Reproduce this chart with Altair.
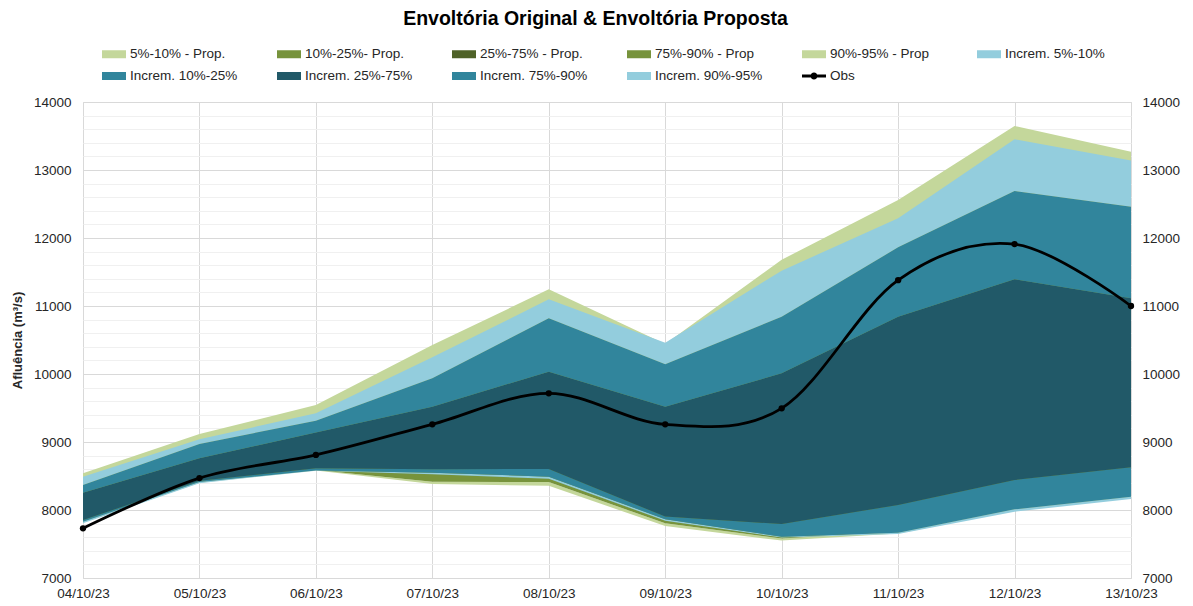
import altair as alt
import pandas as pd

dates = ["04/10/23", "05/10/23", "06/10/23", "07/10/23", "08/10/23",
         "09/10/23", "10/10/23", "11/10/23", "12/10/23", "13/10/23"]

# Envoltória proposta (percentis)
p05 = [7815, 8400, 8580, 8382, 8355, 7765, 7550, 7655, 7990, 8180]
p10 = [7840, 8415, 8590, 8417, 8410, 7804, 7580, 7680, 8030, 8220]
p25 = [7900, 8450, 8650, 8650, 8700, 8000, 7900, 8150, 8500, 8700]
p75 = [8200, 8700, 9100, 9400, 9900, 9400, 9900, 10700, 11300, 11000]
p90 = [8450, 9000, 9380, 10200, 11050, 10400, 11450, 12200, 13400, 13100]
p95 = [8540, 9117, 9544, 10426, 11245, 10440, 11680, 12559, 13647, 13270]

# Envoltória original (incremental)
o05 = [7804, 8395, 8578, 8525, 8460, 7843, 7594, 7647, 7975, 8162]
o10 = [7828, 8410, 8580, 8549, 8490, 7864, 7608, 7667, 8010, 8196]
o25 = [7853, 8430, 8613, 8600, 8603, 7903, 7794, 8074, 8441, 8627]
o75 = [8255, 8760, 9138, 9520, 10034, 9520, 10010, 10843, 11393, 11113]
o90 = [8368, 8970, 9314, 9936, 10819, 10142, 10843, 11863, 12691, 12461]
o95 = [8490, 9040, 9422, 10245, 11098, 10461, 11520, 12289, 13451, 13138]

obs = [7731, 8470, 8810, 9260, 9716, 9260, 9495, 11380, 11910, 11000]

series_names = ["5%-10% - Prop.", "10%-25%- Prop.", "25%-75% - Prop.", "75%-90% - Prop",
                "90%-95% - Prop", "Increm. 5%-10%", "Increm. 10%-25%", "Increm. 25%-75%",
                "Increm. 75%-90%", "Increm. 90%-95%", "Obs"]
series_colors = ["#C4D79B", "#77933C", "#4F6228", "#77933C", "#C4D79B",
                 "#93CDDD", "#31859C", "#215968", "#31859C", "#93CDDD", "#000000"]

RECT = "M-1.2,-0.4H1.2V0.4H-1.2Z"
OBS_SYM = "M-1.2,-0.15H1.2V0.15H-1.2ZM0.35,0A0.35,0.35,0,1,1,-0.35,0A0.35,0.35,0,1,1,0.35,0Z"
series_shapes = [RECT] * 10 + [OBS_SYM]

prop_bands = [(series_names[0], p05, p10), (series_names[1], p10, p25),
              (series_names[2], p25, p75), (series_names[3], p75, p90),
              (series_names[4], p90, p95)]
orig_bands = [(series_names[5], o05, o10), (series_names[6], o10, o25),
              (series_names[7], o25, o75), (series_names[8], o75, o90),
              (series_names[9], o90, o95)]


def band_frame(bands):
    rows = []
    for name, lo, hi in bands:
        for i, d in enumerate(dates):
            rows.append({"dia": d, "serie": name, "lo": lo[i], "hi": hi[i]})
    return pd.DataFrame(rows)


df_prop = band_frame(prop_bands)
df_orig = band_frame(orig_bands)
df_obs = pd.DataFrame({"dia": dates, "valor": obs, "serie": ["Obs"] * len(dates)})

FONT = "Liberation Sans"
TXT = "#262626"

color_scale = alt.Scale(domain=series_names, range=series_colors)
shape_scale = alt.Scale(domain=series_names, range=series_shapes)
y_scale = alt.Scale(domain=[7000, 14000], nice=False, zero=False)

x_axis = alt.Axis(title=None, labelAngle=0, grid=True, gridColor="#d9d9d9",
                  ticks=False, domain=False, labelPadding=8,
                  labelFontSize=13.5, labelColor=TXT, labelFont=FONT)
x_enc = alt.X("dia:O", sort=dates, scale=alt.Scale(type="point", padding=0), axis=x_axis)

left_axis = alt.Axis(
    title="Afluência (m³/s)", titleFontSize=13, titleFontWeight="bold", titleColor=TXT,
    titleFont=FONT, titlePadding=9,
    values=list(range(7000, 14001, 200)),
    labelExpr="datum.value % 1000 === 0 ? datum.value : ''",
    ticks=False, domain=False, labelPadding=12, labelFontSize=13.5, labelColor=TXT,
    labelFont=FONT, grid=True,
    gridColor=alt.ConditionalAxisColor(
        condition={"test": "datum.value % 1000 === 0", "value": "#d9d9d9"}, value="#f0f0f0"),
)
right_axis = alt.Axis(
    title=None, orient="right", values=list(range(7000, 14001, 1000)), format="d",
    ticks=False, domain=False, grid=False, labelPadding=11, labelFontSize=13.5,
    labelColor=TXT, labelFont=FONT,
)

leg = dict(orient="none", legendX=21, legendY=-58, columns=6, direction="horizontal",
           gridAlign="all", columnPadding=39, rowPadding=5,
           symbolSize=400, symbolStrokeWidth=0, symbolOpacity=1,
           labelOffset=6, labelFontSize=13.5, labelColor=TXT,
           labelFont=FONT, labelLimit=200, padding=0)

legend_layer = alt.Chart(df_obs).mark_point(filled=True, opacity=0, strokeWidth=0).encode(
    x=x_enc,
    y=alt.Y("valor:Q", scale=y_scale, axis=None),
    color=alt.Color("serie:N", scale=color_scale, title=None, legend=alt.Legend(**leg)),
    shape=alt.Shape("serie:N", scale=shape_scale, title=None, legend=alt.Legend(**leg)),
)

prop_layer = alt.Chart(df_prop).mark_area(opacity=1).encode(
    x=x_enc,
    y=alt.Y("lo:Q", scale=y_scale, axis=left_axis),
    y2="hi:Q",
    color=alt.Color("serie:N", scale=color_scale, title=None),
)

orig_layer = alt.Chart(df_orig).mark_area(opacity=1).encode(
    x=x_enc,
    y=alt.Y("lo:Q", scale=y_scale, axis=None),
    y2="hi:Q",
    color=alt.Color("serie:N", scale=color_scale, title=None),
)

obs_line = alt.Chart(df_obs).mark_line(interpolate="cardinal", strokeWidth=2.8).encode(
    x=x_enc,
    y=alt.Y("valor:Q", scale=y_scale, axis=right_axis),
    color=alt.Color("serie:N", scale=color_scale, title=None),
)

obs_pts = alt.Chart(df_obs).mark_circle(size=40, opacity=1, color="#000000").encode(
    x=x_enc,
    y=alt.Y("valor:Q", scale=y_scale, axis=None),
)

chart = alt.layer(legend_layer, prop_layer, orig_layer, obs_line, obs_pts).resolve_axis(
    y="independent"
).properties(
    width=1048, height=476,
    title=alt.TitleParams("Envoltória Original & Envoltória Proposta", fontSize=19.5,
                          fontWeight="bold", color="#000000", font=FONT,
                          anchor="middle", frame="bounds", offset=15),
    autosize=alt.AutoSizeParams(type="none"),
    padding={"left": 75, "top": 94, "right": 54, "bottom": 26},
).configure_view(stroke=None).configure(font=FONT, background="white")

chart.save("out.html", embed_options={"renderer": "svg", "actions": False})
